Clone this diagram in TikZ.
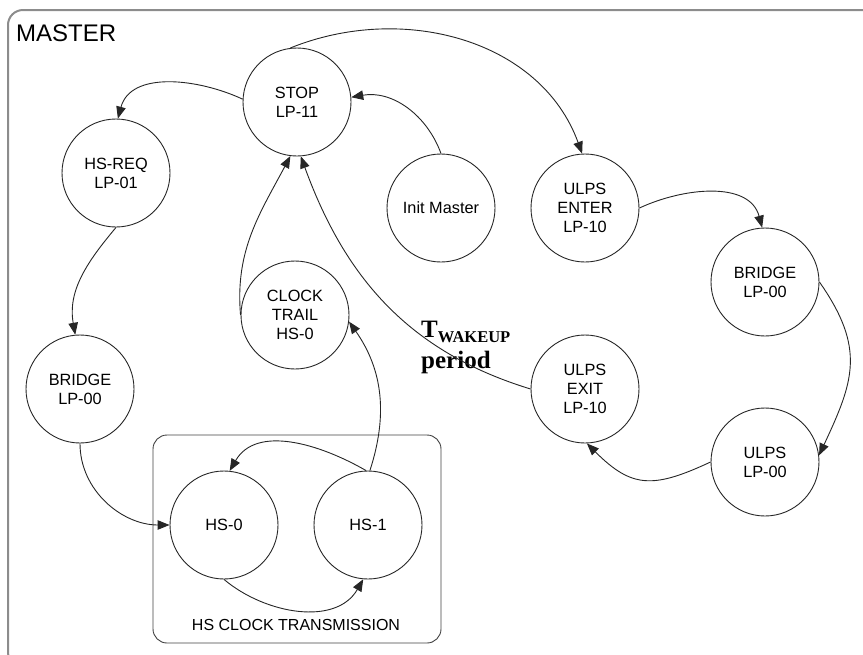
\documentclass[tikz,border=0pt]{standalone}
\usepackage{fontspec}
\newfontfamily\arialf{Liberation Sans}
\newfontfamily\timesf{Liberation Serif}
\usetikzlibrary{arrows.meta}
\begin{document}
\begin{tikzpicture}[x=1pt,y=1pt,
  state/.style={circle,draw=black!85,line width=0.9pt,minimum size=108pt,inner sep=0pt,align=center,
    font=\arialf\fontsize{16.3}{19}\selectfont},
  tr/.style={-{Triangle[length=12pt,width=9.5pt]},line width=0.9pt,draw=black!85},
  frame/.style={draw=black!45,line width=2pt,rounded corners=15pt},
  group/.style={draw=black!75,line width=0.9pt,rounded corners=14pt,inner sep=0pt},
  lbl/.style={font=\arialf\fontsize{16}{19}\selectfont,inner sep=0pt},
]
\useasboundingbox (0,-654) rectangle (863,0);
\begin{scope}
  \clip (0,-654) rectangle (863,0);
  \draw[frame] (8,-10) rectangle (878,-667);
\end{scope}
\node[font=\arialf\fontsize{24}{24}\selectfont,anchor=base west,inner sep=0pt] (master) at (16,-41) {MASTER};

\node[group,minimum width=288pt,minimum height=208pt] (hsbox) at (297,-539) {};
\node[lbl,anchor=base] (hslbl) at (296,-630) {HS CLOCK TRANSMISSION};

\node[state] (stop) at (297,-102) {STOP\\LP-11};
\node[state] (hsreq) at (116,-173) {HS-REQ\\LP-01};
\node[state] (init) at (441,-208) {Init Master};
\node[state] (uenter) at (585,-208) {ULPS\\ENTER\\LP-10};
\node[state] (bridgeR) at (765,-282) {BRIDGE\\LP-00};
\node[state] (trail) at (295,-315) {CLOCK\\TRAIL\\HS-0};
\node[state] (bridgeL) at (80,-389) {BRIDGE\\LP-00};
\node[state] (uexit) at (585,-389) {ULPS\\EXIT\\LP-10};
\node[state] (ulps) at (765,-462) {ULPS\\LP-00};
\node[state] (hs0) at (224,-525) {HS-0};
\node[state] (hs1) at (368,-525) {HS-1};

\node[anchor=base west,inner sep=0pt,font=\timesf\bfseries\fontsize{25}{25}\selectfont] (twake) at (421,-337)
  {T\raisebox{-5pt}{\fontsize{16.5}{16.5}\selectfont WAKEUP}};
\node[anchor=base west,inner sep=0pt,font=\timesf\bfseries\fontsize{25}{25}\selectfont] (period) at (421,-368) {period};

\draw[tr] (stop.177) to[out=155,in=75] (hsreq.88);
\draw[tr] (init.90) to[out=110,in=10] (stop.5);
\draw[tr] (stop.97) to[out=22,in=110] (uenter.93);
\draw[tr] (uenter.0) to[out=25,in=105] (bridgeR.93);
\draw[tr] (bridgeR.0) to[out=-55,in=65,looseness=1.2] (ulps.7);
\draw[tr] (ulps.180) to[out=205,in=-45,looseness=1.3] (uexit.-88);
\draw[tr] (uexit.180) to[out=163,in=-70] (stop.-86);
\draw[tr] (trail.180) to[out=95,in=-118] (stop.-97);
\draw[tr] (hs1.88) to[out=72,in=-55] (trail.-7);
\draw[tr] (hs1.92) to[out=150,in=60] (hs0.84);
\draw[tr] (hs0.-90) to[out=-40,in=-120] (hs1.-95);
\draw[tr] (bridgeL.-90) to[out=-90,in=180] (hs0.180);
\draw[tr] (hsreq.-90) to[out=-130,in=100] (bridgeL.95);
\end{tikzpicture}
\end{document}
